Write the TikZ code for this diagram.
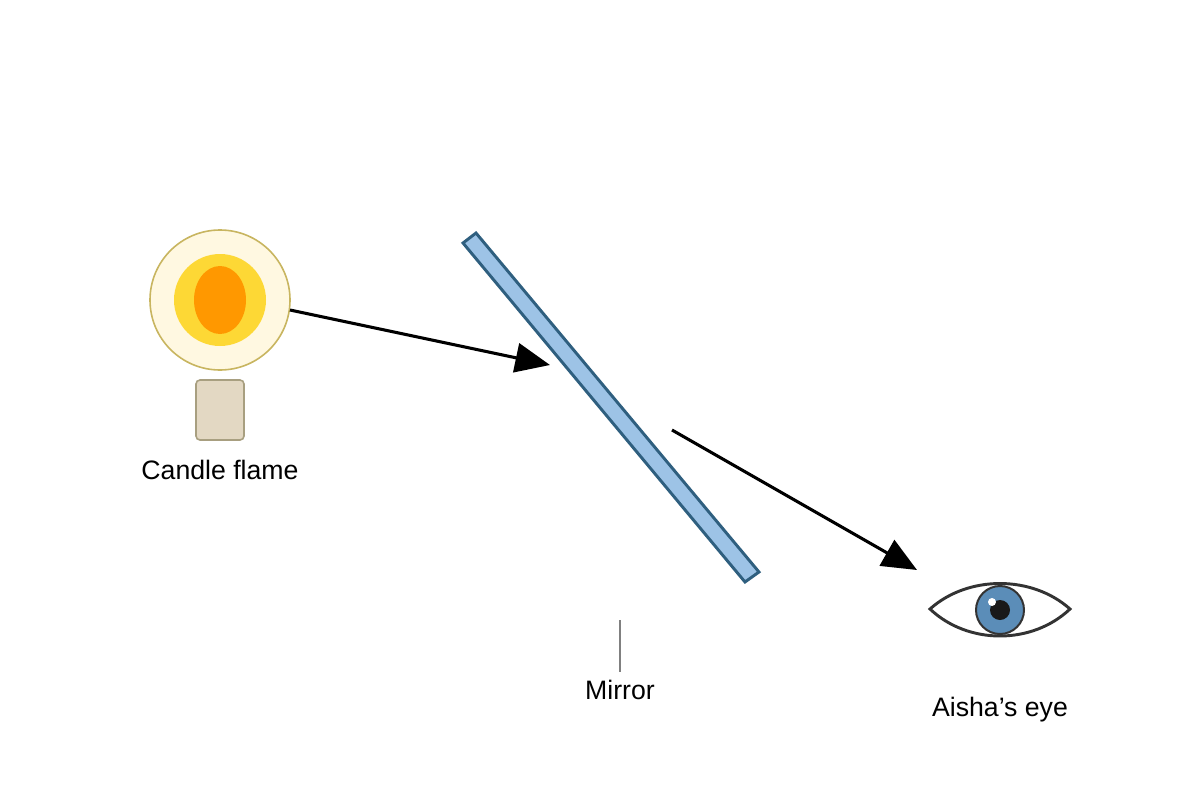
\documentclass[tikz,border=0pt]{standalone}
\usepackage{fontspec}
\setmainfont{Liberation Sans}
\usetikzlibrary{arrows.meta,shapes.geometric}
\definecolor{halo}{HTML}{FFF8E1}
\definecolor{halostroke}{HTML}{C8B560}
\definecolor{flamey}{HTML}{FDD835}
\definecolor{flameo}{HTML}{FF9800}
\definecolor{wax}{HTML}{E3D8C3}
\definecolor{waxs}{HTML}{A89F80}
\definecolor{mirf}{HTML}{9DC3E6}
\definecolor{mirs}{HTML}{2F5F7F}
\definecolor{iris}{HTML}{5B8DB8}
\begin{document}
\begin{tikzpicture}[x=0.75pt,y=-0.75pt,
  lab/.style={font=\fontsize{20}{24}\selectfont, text=black},
  ray/.style={line width=2.3pt,-{Triangle[length=26pt,width=22pt]}}]
\useasboundingbox (0,0) rectangle (1200,800);
% candle
\node[circle,minimum size=105pt,draw=halostroke,line width=1.2pt,fill=halo,inner sep=0] (halo) at (220,300) {};
\node[circle,minimum size=69pt,fill=flamey,inner sep=0] (fy) at (220,300) {};
\node[ellipse,minimum width=39pt,minimum height=51pt,fill=flameo,inner sep=0] (fo) at (220,300) {};
\node[draw=waxs,fill=wax,line width=1.2pt,rounded corners=3pt,minimum width=36pt,minimum height=45pt,inner sep=0] (wax) at (220,410) {};
\node[lab] (cl) at (220,470) {Candle flame};
% mirror
\filldraw[fill=mirf,draw=mirs,line width=2.2pt] (463,243) -- (476,233) -- (759,572) -- (745,582) -- cycle;
\coordinate (r0) at (290,310);
\coordinate (m1) at (550,365);
\coordinate (m2) at (672,430);
\coordinate (ml1) at (620,620);
\coordinate (ml2) at (620,672);
\draw[gray,line width=0.8pt] (ml1) -- (ml2);
\node[lab] (ml) at (620,690) {Mirror};
% rays
\draw[ray] (r0) -- (m1);
\coordinate (e0) at (917,570);
\draw[ray] (m2) -- (e0);
% eye
\draw[line width=2.2pt,draw=black!80] (930,609) .. controls (968,575) and (1032,575) .. (1070,609) .. controls (1032,645) and (968,645) .. (930,609) -- cycle;
\node[circle,fill=iris,draw=black!80,line width=1.5pt,minimum size=36pt,inner sep=0] (iris) at (1000,610) {};
\node[circle,fill=black!90,minimum size=15pt,inner sep=0] (pupil) at (1000,610) {};
\node[circle,fill=white,minimum size=6pt,inner sep=0] (hl) at (992,602) {};
\node[lab] (el) at (1000,710) {Aisha's eye};
\end{tikzpicture}
\end{document}
